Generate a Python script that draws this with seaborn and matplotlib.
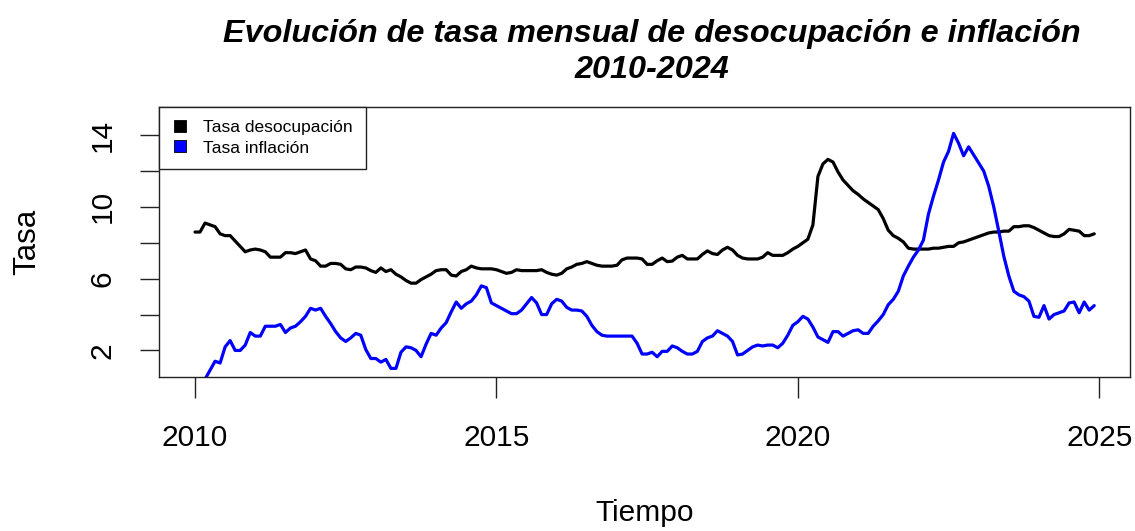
import numpy as np
import pandas as pd
import matplotlib
matplotlib.use("Agg")
import matplotlib.pyplot as plt
from matplotlib.lines import Line2D
import seaborn as sns

# ---- data (monthly, Jan 2010 - Dec 2024) ----
start_year = 2010
desocupacion = [
    8.6, 8.6, 9.1, 9.0, 8.9, 8.5, 8.4, 8.4, 8.1, 7.8, 7.5, 7.6,
    7.65, 7.6, 7.5, 7.2, 7.2, 7.2, 7.45, 7.45, 7.4, 7.5, 7.6, 7.1,
    7.0, 6.7, 6.7, 6.85, 6.85, 6.8, 6.55, 6.5, 6.65, 6.65, 6.6, 6.45,
    6.35, 6.6, 6.4, 6.5, 6.25, 6.1, 5.9, 5.75, 5.75, 5.95, 6.1, 6.25,
    6.45, 6.5, 6.5, 6.2, 6.15, 6.4, 6.5, 6.7, 6.6, 6.55, 6.55, 6.55,
    6.5, 6.4, 6.3, 6.35, 6.5, 6.45, 6.45, 6.45, 6.45, 6.5, 6.35, 6.25,
    6.2, 6.3, 6.55, 6.65, 6.8, 6.85, 6.95, 6.85, 6.75, 6.7, 6.7, 6.7,
    6.75, 7.05, 7.15, 7.15, 7.15, 7.1, 6.8, 6.8, 7.0, 7.15, 6.95, 6.98,
    7.2, 7.3, 7.1, 7.1, 7.1, 7.35, 7.55, 7.4, 7.35, 7.6, 7.75, 7.6,
    7.3, 7.15, 7.1, 7.1, 7.1, 7.2, 7.45, 7.3, 7.3, 7.3, 7.45, 7.65,
    7.8, 8.0, 8.2, 9.0, 11.7, 12.4, 12.65, 12.5, 11.95, 11.5, 11.2, 10.9,
    10.7, 10.45, 10.25, 10.05, 9.85, 9.35, 8.7, 8.4, 8.25, 8.05, 7.7, 7.65,
    7.65, 7.65, 7.65, 7.7, 7.7, 7.75, 7.8, 7.8, 8.0, 8.05, 8.15, 8.25,
    8.35, 8.45, 8.55, 8.6, 8.6, 8.65, 8.65, 8.9, 8.9, 8.95, 8.95, 8.85,
    8.7, 8.55, 8.4, 8.35, 8.35, 8.5, 8.75, 8.7, 8.65, 8.4, 8.4, 8.5,
]
inflacion = [
    -0.3, 0.2, 0.4, 0.9, 1.4, 1.3, 2.2, 2.55, 2.0, 2.0, 2.3, 3.0,
    2.8, 2.8, 3.35, 3.35, 3.35, 3.45, 3.0, 3.25, 3.35, 3.6, 3.9, 4.35,
    4.25, 4.35, 3.9, 3.5, 3.05, 2.7, 2.5, 2.7, 2.95, 2.85, 2.05, 1.55,
    1.55, 1.35, 1.5, 1.0, 1.0, 1.9, 2.2, 2.15, 2.0, 1.65, 2.35, 2.95,
    2.85, 3.25, 3.55, 4.15, 4.7, 4.35, 4.6, 4.75, 5.1, 5.6, 5.5, 4.65,
    4.5, 4.35, 4.2, 4.05, 4.05, 4.25, 4.6, 4.95, 4.65, 4.0, 4.0, 4.6,
    4.85, 4.75, 4.4, 4.25, 4.25, 4.2, 3.9, 3.4, 3.05, 2.85, 2.8, 2.8,
    2.8, 2.8, 2.8, 2.8, 2.4, 1.8, 1.8, 1.9, 1.65, 1.95, 1.95, 2.25,
    2.15, 1.95, 1.8, 1.8, 1.95, 2.5, 2.7, 2.8, 3.1, 2.95, 2.8, 2.5,
    1.75, 1.8, 2.0, 2.2, 2.3, 2.25, 2.3, 2.3, 2.15, 2.4, 2.85, 3.4,
    3.6, 3.9, 3.75, 3.3, 2.75, 2.6, 2.45, 3.05, 3.05, 2.8, 2.95, 3.1,
    3.15, 2.95, 2.95, 3.35, 3.65, 4.0, 4.55, 4.85, 5.3, 6.15, 6.7, 7.2,
    7.6, 8.15, 9.6, 10.6, 11.5, 12.5, 13.1, 14.1, 13.55, 12.85, 13.35, 12.9,
    12.45, 12.0, 11.15, 10.0, 8.65, 7.25, 6.15, 5.3, 5.1, 5.0, 4.75, 3.9,
    3.85, 4.5, 3.75, 4.0, 4.1, 4.2, 4.65, 4.7, 4.1, 4.7, 4.25, 4.5,
]
series_labels = ["Tasa desocupación", "Tasa inflación"]
series_colors = ["black", "#0000FF"]
x_ticks = [2010, 2015, 2020, 2025]
y_ticks = [2, 4, 6, 8, 10, 12, 14]
y_ticklabels = ["2", "", "6", "", "10", "", "14"]
title_line1 = "Evolución de tasa mensual de desocupación e inflación"
title_line2 = "2010-2024"
xlabel = "Tiempo"
ylabel = "Tasa"

tiempo = start_year + np.arange(len(desocupacion)) / 12.0
df = pd.DataFrame({"Tiempo": tiempo,
                   series_labels[0]: desocupacion,
                   series_labels[1]: inflacion})

sns.set_theme(style="ticks")
plt.rcParams["font.family"] = ["Liberation Sans", "DejaVu Sans"]
plt.rcParams.update({"text.color": "black", "axes.labelcolor": "black",
                     "xtick.color": "black", "ytick.color": "black"})

W, H = 1135, 531
fig = plt.figure(figsize=(W / 100, H / 100), dpi=100)
L, R, T, B = 159, 1130, 107, 377
ax = fig.add_axes([L / W, 1 - B / H, (R - L) / W, (B - T) / H])

for lab, col in zip(series_labels, series_colors):
    sns.lineplot(data=df, x="Tiempo", y=lab, ax=ax, color=col,
                 linewidth=2.3, legend=False)

ax.set_xlim(2009.403, 2025.51)
ax.set_ylim(0.52, 15.57)
ax.set_xticks(x_ticks)
ax.set_xticklabels([str(v) for v in x_ticks])
ax.set_yticks(y_ticks)
ax.set_yticklabels(y_ticklabels, rotation=90, va="center")
ax.tick_params(axis="x", length=15, width=1, color="#222222", pad=18.5,
               labelsize=21.5, labelcolor="black")
ax.tick_params(axis="y", length=13.7, width=1, color="#222222", pad=17,
               labelsize=21.5, labelcolor="black")
for s in ax.spines.values():
    s.set_visible(True)
    s.set_color("#222222")
    s.set_linewidth(1.0)

ax.set_xlabel(xlabel, fontsize=21.5, labelpad=34, color="black")
ax.set_ylabel(ylabel, fontsize=22.5, labelpad=33, color="black")

fig.text(652 / W, 1 - 42 / H, title_line1, ha="center", va="baseline",
         fontsize=23.3, fontweight="bold", fontstyle="italic", color="black")
fig.text(652 / W, 1 - 78 / H, title_line2, ha="center", va="baseline",
         fontsize=23.3, fontweight="bold", fontstyle="italic", color="black")

handles = [Line2D([], [], linestyle="none", marker="s", markersize=8.5,
                  markerfacecolor=c, markeredgecolor="black", markeredgewidth=0.6)
           for c in series_colors]
leg = ax.legend(handles, series_labels, loc="upper left", bbox_to_anchor=(0, 1),
                borderaxespad=0, fancybox=False, framealpha=1, edgecolor="#222222",
                fontsize=12.5, handlelength=0.9, handletextpad=0.9,
                borderpad=0.75, labelspacing=0.3)
for t in leg.get_texts():
    t.set_color("black")
leg.get_frame().set_linewidth(1.0)

fig.savefig("out.png", dpi=100)
